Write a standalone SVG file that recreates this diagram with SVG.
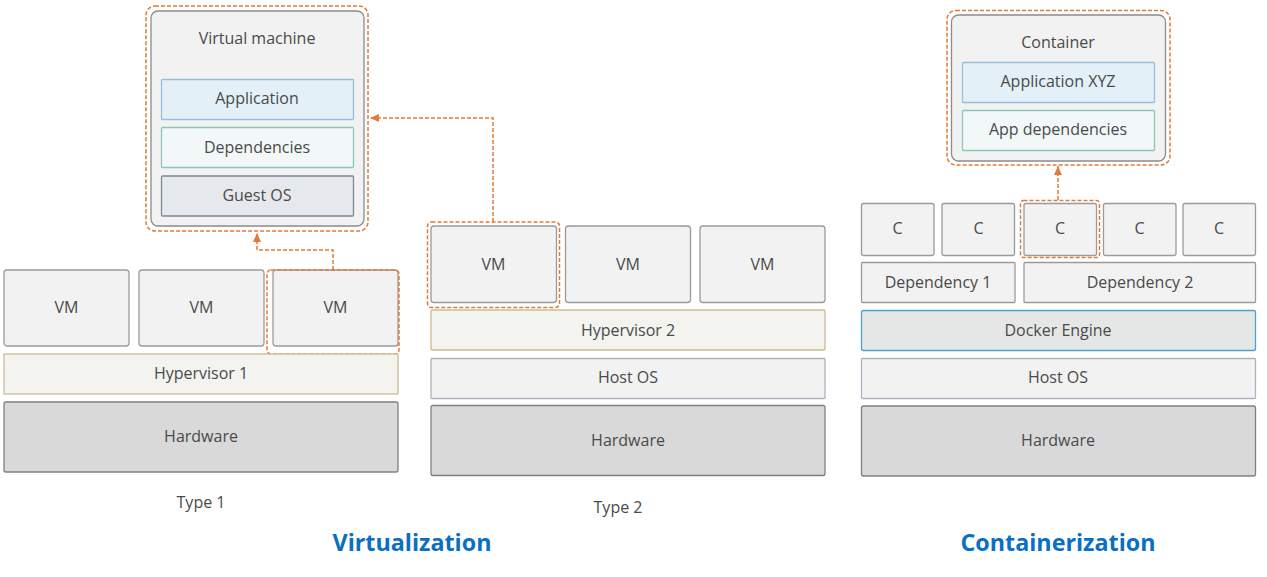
<svg xmlns="http://www.w3.org/2000/svg" width="1267" height="577" viewBox="0 0 1267 577">
<defs>
<style>
.box{fill:#f2f2f2;stroke:#9a9a9a;stroke-width:1.3}
.hyp{fill:#f3f3f0;stroke:#cbbd92;stroke-width:1.3}
.hw{fill:#d9d9d9;stroke:#808080;stroke-width:1.3}
.host{fill:#f2f2f2;stroke:#aab4be;stroke-width:1.3}
.app{fill:#e3f0f8;stroke:#96bfdc;stroke-width:1.3}
.dep{fill:#f2f8f8;stroke:#8cc6ba;stroke-width:1.3}
.gos{fill:#e5e8ed;stroke:#7e8796;stroke-width:1.3}
.dock{fill:#e5e7e7;stroke:#4ea2cf;stroke-width:1.3}
.sel{fill:none;stroke:#e07b39;stroke-width:1.5;stroke-dasharray:4 2}
.con{fill:none;stroke:#e07b39;stroke-width:1.5;stroke-dasharray:4 2}
text{font-family:"Open Sans","Noto Sans",sans-serif;font-size:16px;fill:#4a4a4a;text-anchor:middle}
.title{font-size:23.3px;font-weight:bold;fill:#0a6fc2}
</style>
<marker id="ah" markerUnits="userSpaceOnUse" markerWidth="10" markerHeight="8" refX="9" refY="4" orient="auto">
<path d="M0,0 L9,4 L0,8 z" fill="#e07b39"/>
</marker>
</defs>

<!-- Type 1 -->
<g id="t1-vm1"><rect class="box" x="4" y="270" width="125" height="76" rx="3"/><text x="66.5" y="313">VM</text></g>
<g id="t1-vm2"><rect class="box" x="139" y="270" width="125" height="76" rx="3"/><text x="201.5" y="313">VM</text></g>
<g id="t1-vm3"><rect class="box" x="273" y="270" width="125" height="76" rx="3"/><text x="335.5" y="313">VM</text>
<rect class="sel" x="267" y="270" width="132" height="84" rx="4"/></g>
<g id="t1-hyp"><rect class="hyp" x="4" y="354" width="394" height="40"/><text x="201" y="379">Hypervisor 1</text></g>
<g id="t1-hw"><rect class="hw" x="4" y="402" width="394" height="70" rx="2"/><text x="201" y="441.5">Hardware</text></g>
<g id="t1-label"><text x="201" y="507.5">Type 1</text></g>

<!-- Virtual machine detail -->
<g id="vm-detail">
<rect class="sel" x="146" y="6" width="222" height="225" rx="9"/>
<rect fill="#f2f2f2" stroke="#8c8c8c" stroke-width="1.3" x="151" y="11" width="213" height="215" rx="7"/>
<text x="257" y="44">Virtual machine</text>
</g>
<g id="vm-app"><rect class="app" x="161.5" y="79.5" width="192" height="40" rx="1"/><text x="257" y="104">Application</text></g>
<g id="vm-dep"><rect class="dep" x="161.5" y="127.5" width="192" height="40" rx="1"/><text x="257" y="152.5">Dependencies</text></g>
<g id="vm-gos"><rect class="gos" x="161.5" y="176" width="192" height="40" rx="1"/><text x="257" y="200.5">Guest OS</text></g>

<!-- Type 2 -->
<g id="t2-vm1"><rect class="box" x="431" y="226" width="125.5" height="76.5" rx="3"/><text x="493.5" y="270">VM</text>
<rect class="sel" x="427.5" y="222" width="132" height="85.5" rx="4"/></g>
<g id="t2-vm2"><rect class="box" x="565.5" y="226" width="125" height="76.5" rx="3"/><text x="628" y="270">VM</text></g>
<g id="t2-vm3"><rect class="box" x="700" y="226" width="125" height="76.5" rx="3"/><text x="762.5" y="270">VM</text></g>
<g id="t2-hyp"><rect class="hyp" x="431" y="310" width="394" height="40" rx="1"/><text x="628" y="335.5">Hypervisor 2</text></g>
<g id="t2-host"><rect class="host" x="431" y="358.5" width="394" height="40" rx="1"/><text x="628" y="383">Host OS</text></g>
<g id="t2-hw"><rect class="hw" x="431" y="405.5" width="394" height="70" rx="2"/><text x="628" y="445.5">Hardware</text></g>
<g id="t2-label"><text x="618" y="512.5">Type 2</text></g>

<g id="virt-title"><text class="title" x="412" y="550.5">Virtualization</text></g>

<!-- Containerization -->
<g id="ct-detail">
<rect class="sel" x="947" y="10.5" width="223" height="154.5" rx="9"/>
<rect fill="#f2f2f2" stroke="#8c8c8c" stroke-width="1.3" x="951.5" y="15" width="214" height="146" rx="7"/>
<text x="1058" y="47.5">Container</text>
</g>
<g id="ct-app"><rect class="app" x="962.5" y="62.5" width="192" height="40" rx="1"/><text x="1058" y="87">Application XYZ</text></g>
<g id="ct-dep"><rect class="dep" x="962.5" y="110.5" width="192" height="40" rx="1"/><text x="1058" y="135">App dependencies</text></g>

<g id="c1"><rect class="box" x="861.5" y="203.5" width="72.5" height="52" rx="2"/><text x="897.5" y="234">C</text></g>
<g id="c2"><rect class="box" x="942" y="203.5" width="72.5" height="52" rx="2"/><text x="978.5" y="234">C</text></g>
<g id="c3"><rect class="box" x="1024" y="203.5" width="72.5" height="52" rx="2"/><text x="1060" y="234">C</text>
<rect class="sel" x="1020.5" y="200.5" width="79" height="57" rx="3"/></g>
<g id="c4"><rect class="box" x="1103.5" y="203.5" width="72.5" height="52" rx="2"/><text x="1139.5" y="234">C</text></g>
<g id="c5"><rect class="box" x="1183" y="203.5" width="72.5" height="52" rx="2"/><text x="1219" y="234">C</text></g>
<g id="dep1"><rect class="box" x="861.5" y="262.5" width="153.5" height="40" rx="1"/><text x="938" y="287.5">Dependency 1</text></g>
<g id="dep2"><rect class="box" x="1024" y="262.5" width="231.5" height="40" rx="1"/><text x="1140" y="287.5">Dependency 2</text></g>
<g id="docker"><rect class="dock" x="861.5" y="310.5" width="394" height="40" rx="2"/><text x="1058" y="335.5">Docker Engine</text></g>
<g id="ct-host"><rect class="host" x="861.5" y="358.5" width="394" height="40" rx="1"/><text x="1058" y="383">Host OS</text></g>
<g id="ct-hw"><rect class="hw" x="861.5" y="406" width="394" height="70" rx="2"/><text x="1058" y="445.5">Hardware</text></g>

<g id="cont-title"><text class="title" x="1058" y="550.5">Containerization</text></g>

<!-- connectors -->
<g id="connectors">
<path class="con" d="M333,270 V250 H257 V233" marker-end="url(#ah)"/>
<path class="con" d="M493,222 V118 H370" marker-end="url(#ah)"/>
<path class="con" d="M1058,200 V166" marker-end="url(#ah)"/>
</g>
</svg>
